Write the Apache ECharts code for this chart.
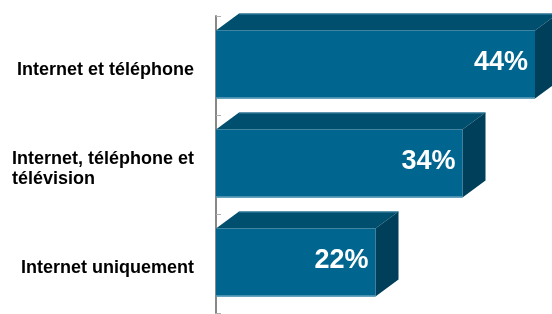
<!DOCTYPE html>
<html>
<head>
<meta charset="utf-8">
<script src="https://cdn.jsdelivr.net/npm/echarts@6/dist/echarts.min.js"></script>
<style>
  html, body { margin: 0; padding: 0; background: #fff; }
  #main { width: 552px; height: 314px; }
</style>
</head>
<body>
<div id="main"></div>
<script>
var categories = ['Internet et téléphone', 'Internet, téléphone et\ntélévision', 'Internet uniquement'];
var values = [44, 34, 22];

var chart = echarts.init(document.getElementById('main'));

var frontColor = '#00668f';
var topColor = '#004f6e';
var sideColor = '#003f5a';
var depthX = 23;
var depthY = 17;

function renderBar(params, api) {
  var idx = api.value(0);
  var val = api.value(1);
  var p0 = api.coord([0, idx]);
  var p1 = api.coord([val, idx]);
  var c = p0[1];
  var x0 = p0[0];
  var x1 = p1[0];
  var yt = c - 35;
  var yb = c + 33;
  return {
    type: 'group',
    children: [
      {
        type: 'polygon',
        shape: { points: [[x0, yt], [x0 + depthX, yt - depthY], [x1 + depthX, yt - depthY], [x1, yt]] },
        style: { fill: topColor }
      },
      {
        type: 'line',
        shape: { x1: x0 + depthX, y1: yt - depthY + 0.5, x2: x1 + depthX, y2: yt - depthY + 0.5 },
        style: { stroke: '#3f86a6', lineWidth: 1 }
      },
      {
        type: 'polygon',
        shape: { points: [[x1, yt], [x1 + depthX, yt - depthY], [x1 + depthX, yb - depthY], [x1, yb]] },
        style: { fill: sideColor }
      },
      {
        type: 'rect',
        shape: { x: x0, y: yt, width: x1 - x0, height: yb - yt },
        style: { fill: frontColor }
      },
      {
        type: 'line',
        shape: { x1: x0, y1: yb - 0.5, x2: x1, y2: yb - 0.5 },
        style: { stroke: '#5f9fba', lineWidth: 1.5 }
      },
      {
        type: 'text',
        style: {
          x: x1 - 7,
          y: c - 3,
          text: val + '%',
          fill: '#ffffff',
          font: 'bold 27px "Liberation Sans", Arial, sans-serif',
          align: 'right',
          verticalAlign: 'middle'
        }
      }
    ]
  };
}

var option = {
  animation: false,
  grid: { left: 216, top: 16, height: 297, width: 362.5, outerBoundsMode: 'none' },
  xAxis: { type: 'value', min: 0, max: 50, show: false },
  yAxis: {
    type: 'category',
    inverse: true,
    data: categories,
    offset: 5,
    axisLine: { show: true, lineStyle: { color: '#888888', width: 2 } },
    axisTick: { show: true, inside: true, length: 5, lineStyle: { color: '#b0b0b0', width: 1 } },
    axisLabel: {
      margin: 17,
      padding: [9, 0, 0, 0],
      color: '#000',
      formatter: function (v) {
        return v.split('\n').map(function (s) { return '{a|' + s + '}'; }).join('\n');
      },
      rich: {
        a: {
          fontFamily: '"Liberation Sans", Arial, sans-serif',
          fontWeight: 'bold',
          fontSize: 18,
          lineHeight: 20,
          align: 'left',
          color: '#000'
        }
      }
    }
  },
  series: [{
    type: 'custom',
    renderItem: renderBar,
    encode: { x: 1, y: 0 },
    data: values.map(function (v, i) { return [i, v]; }),
    clip: false
  }]
};

chart.setOption(option);
</script>
</body>
</html>
